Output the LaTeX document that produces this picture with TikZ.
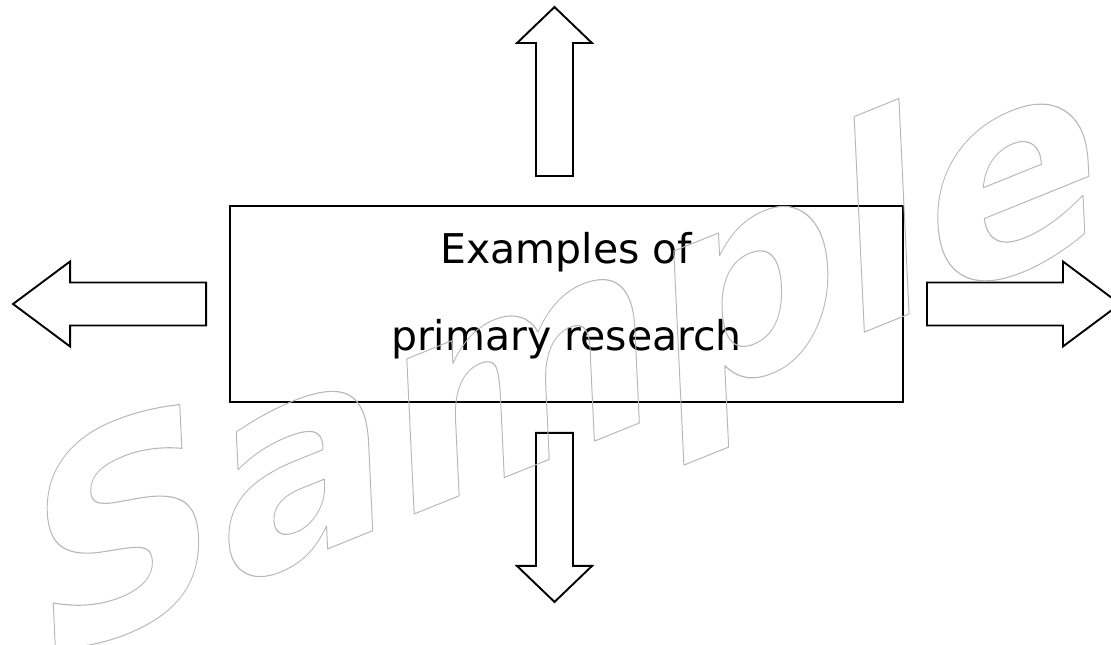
\documentclass[tikz,border=0pt]{standalone}
\usepackage{fontspec}
\setmainfont{DejaVu Sans}
\usepackage{tikz}
\usetikzlibrary{positioning, calc}

\newcommand\hollowon{\special{pdf:literal direct 1 Tr 1 w 1 j}}
\newcommand\hollowoff{\special{pdf:literal direct 0 Tr}}

\begin{document}
\begin{tikzpicture}[
  x=1pt, y=1pt,
  box/.style={rectangle, draw, line width=1.9pt, minimum width=673pt, minimum height=196pt, inner sep=0pt},
  title/.style={align=center, font=\fontsize{41}{87}\selectfont},
  arrowline/.style={draw, line width=1.9pt, fill=white, line join=miter},
  pics/blockarrow/.style args={#1/#2/#3/#4}{code={
    \draw[arrowline] (0,-#1) -- (#2,-#1) -- (#2,-#3) -- (#2+#4,0) -- (#2,#3) -- (#2,#1) -- (0,#1) -- cycle;
  }},
  stamp/.style={anchor=base, text=black!28, font=\fontsize{268}{268}\selectfont\bfseries, rotate=22, xslant=0.35, xscale=1.03, inner sep=0pt}
]
\useasboundingbox (0,0) rectangle (1111,645);

\node[box] (box) at (566.5,341) {};
\node[title] (title) at ([yshift=8pt]box.center) {Examples of\\primary research};

\pic[rotate=90] at ([shift={(-12pt,29pt)}]box.north) {blockarrow=18.5/133/37.5/36};
\pic[rotate=-90] at ([shift={(-12pt,-30pt)}]box.south) {blockarrow=18.5/133/37.5/36};
\pic[rotate=180] at ([xshift=-23pt]box.west) {blockarrow=21.5/136/42.5/57};
\pic at ([xshift=23pt]box.east) {blockarrow=21.5/136/42.5/57};

\node[stamp] (stamp) at (570,194) {\hollowon Sample\hollowoff};
\end{tikzpicture}
\end{document}
